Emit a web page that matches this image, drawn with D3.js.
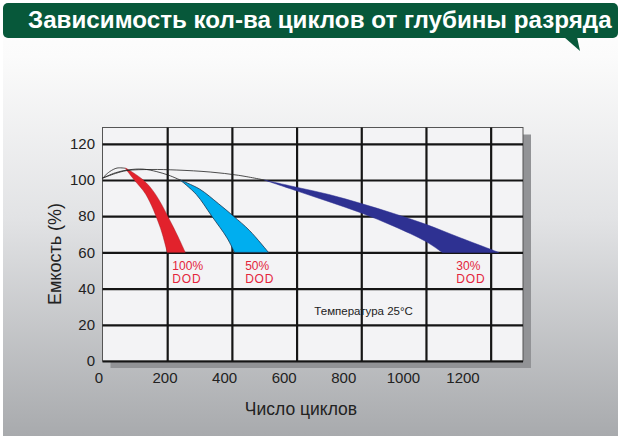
<!DOCTYPE html>
<html>
<head>
<meta charset="utf-8">
<script src="https://cdn.jsdelivr.net/npm/d3@7"></script>
<style>
  body { margin: 0; background: #fff; }
  svg text { font-family: "Liberation Sans", Arial, sans-serif; }
</style>
</head>
<body>
<div id="chart"></div>
<script>
// Chart data: [cycles, capacity %]
const xTicks = [0, 200, 400, 600, 800, 1000, 1200];
const yTicks = [0, 20, 40, 60, 80, 100, 120];

// thin black lines from the start point to the beginning of each band
const lead100 = [[0, 101], [22, 104.6], [45, 106.6], [70, 106.5]];
const lead50 = [[0, 101], [40, 104], [80, 105.6], [126, 106], [168, 104.6], [205, 102.6], [240, 100]];
const lead30 = [[0, 101], [40, 103.6], [75, 105.2], [150, 105.8], [230, 105.5], [333, 104.4], [420, 102.6], [500, 100]];

// band edges (inner = fewer cycles, outer = more cycles)
const band100Inner = [[70, 106.5], [98, 100], [134, 92], [178, 74], [200, 60]];
const band100Outer = [[72, 106.6], [126, 100], [162, 92.6], [219, 74], [256, 60]];
const band50Inner = [[240, 100], [290, 92], [338, 80], [385, 68], [408, 60]];
const band50Outer = [[240, 100], [300, 95], [358, 87], [405, 80], [455, 72], [513, 60]];
const band30Inner = [[500, 100], [600, 94], [700, 88], [800, 81.8], [900, 74.5], [1000, 66], [1050, 60]];
const band30Outer = [[500, 100], [600, 96], [700, 92], [800, 87], [900, 81.5], [1000, 75.5], [1100, 68.5], [1225, 60]];

const dodLabels = [
    {x: 216, y: 50.3, pct: "100%"},
    {x: 441, y: 50.3, pct: "50%"},
    {x: 1094, y: 50.3, pct: "30%"}
];

const width = 625;
const height = 436;
const plot = {left: 102.5, right: 523, top: 127.5, bottom: 361};

const svg = d3.select("#chart")
    .append("svg")
    .attr("width", width)
    .attr("height", height);

const defs = svg.append("defs");
const bg = defs.append("linearGradient")
    .attr("id", "bg")
    .attr("x1", 0).attr("y1", 0).attr("x2", 0).attr("y2", 1);
bg.append("stop").attr("offset", "0").attr("stop-color", "#ffffff");
bg.append("stop").attr("offset", "0.13").attr("stop-color", "#fbfbfb");
bg.append("stop").attr("offset", "0.5").attr("stop-color", "#e2e3e5");
bg.append("stop").attr("offset", "1").attr("stop-color", "#a8aaad");

// page background
svg.append("rect")
    .attr("x", 3).attr("y", 0)
    .attr("width", 615).attr("height", height)
    .attr("fill", "url(#bg)");

// title banner
svg.append("rect")
    .attr("x", 3).attr("y", 3)
    .attr("width", 615).attr("height", 35)
    .attr("rx", 5)
    .attr("fill", "#07583a");
svg.append("polygon")
    .attr("points", "564,37 580,51 577,37")
    .attr("fill", "#07583a");
svg.append("text")
    .attr("x", 28).attr("y", 27.5)
    .attr("fill", "#fff")
    .attr("font-size", 24.2)
    .attr("font-weight", "bold")
    .text("Зависимость кол-ва циклов от глубины разряда");

// Scales
const x = d3.scaleLinear().domain([0, 1300]).range([plot.left, plot.right]);
const y = d3.scaleLinear().domain([0, 129]).range([plot.bottom, plot.top]);
// the tick labels in the original sit a little left of their grid lines
const xLabel = d3.scaleLinear().domain([0, 200, 1200]).range([99, 165, 463]);

// plot shadow and background
svg.append("rect")
    .attr("x", plot.left + 8).attr("y", plot.top + 7)
    .attr("width", plot.right - plot.left).attr("height", plot.bottom - plot.top)
    .attr("fill", "#929396");
svg.append("rect")
    .attr("x", plot.left).attr("y", plot.top)
    .attr("width", plot.right - plot.left).attr("height", plot.bottom - plot.top)
    .attr("fill", "#f3f3f5")
    .attr("stroke", "#555")
    .attr("stroke-width", 1);

// grid lines
svg.append("g")
    .attr("transform", "translate(" + plot.left + ",0)")
    .call(d3.axisLeft(y).tickValues(yTicks).tickSize(-(plot.right - plot.left)).tickFormat(""))
    .call(g => g.select(".domain").remove())
    .call(g => g.selectAll("line").attr("stroke", "#151515").attr("stroke-width", 2.2));
svg.append("g")
    .attr("transform", "translate(0," + plot.bottom + ")")
    .call(d3.axisBottom(x).tickValues(xTicks.slice(1)).tickSize(-(plot.bottom - plot.top)).tickFormat(""))
    .call(g => g.select(".domain").remove())
    .call(g => g.selectAll("line").attr("stroke", "#151515").attr("stroke-width", 2.2));

// y tick labels
svg.append("g")
    .selectAll("text")
    .data(yTicks)
    .enter().append("text")
    .attr("x", 95)
    .attr("y", d => y(d) + 5.3)
    .attr("text-anchor", "end")
    .attr("font-size", 15)
    .attr("fill", "#222")
    .text(d => d);

// x tick labels
svg.append("g")
    .selectAll("text")
    .data(xTicks)
    .enter().append("text")
    .attr("x", d => xLabel(d))
    .attr("y", 382.7)
    .attr("text-anchor", "middle")
    .attr("font-size", 15)
    .attr("fill", "#222")
    .text(d => d);

// axis titles
svg.append("text")
    .attr("transform", "translate(61,254) rotate(-90)")
    .attr("text-anchor", "middle")
    .attr("font-size", 18)
    .attr("fill", "#222")
    .text("Емкость (%)");
svg.append("text")
    .attr("x", 301).attr("y", 415)
    .attr("text-anchor", "middle")
    .attr("font-size", 17.5)
    .attr("fill", "#222")
    .text("Число циклов");

// curves
const line = d3.line()
    .x(d => x(d[0]))
    .y(d => y(d[1]))
    .curve(d3.curveCatmullRom.alpha(0.5));

function bandPath(inner, outer) {
    const a = line(outer);
    const b = line(inner.slice().reverse());
    return a + "L" + b.slice(1) + "Z";
}

svg.append("path")
    .attr("d", bandPath(band100Inner, band100Outer))
    .attr("fill", "#e2222c")
    .attr("stroke", "#9a1a20")
    .attr("stroke-width", 0.4);
svg.append("path")
    .attr("d", bandPath(band50Inner, band50Outer))
    .attr("fill", "#00aeef")
    .attr("stroke", "#1a3550")
    .attr("stroke-width", 0.8);
svg.append("path")
    .attr("d", bandPath(band30Inner, band30Outer))
    .attr("fill", "#2e3192")
    .attr("stroke", "#2e3192")
    .attr("stroke-width", 0.5);

[lead100, lead50, lead30].forEach(function(pts) {
    svg.append("path")
        .attr("d", line(pts))
        .attr("fill", "none")
        .attr("stroke", "#222")
        .attr("stroke-width", 0.8);
});

// DOD labels
const labels = svg.append("g")
    .selectAll("text")
    .data(dodLabels)
    .enter().append("text")
    .attr("x", d => x(d.x))
    .attr("y", d => y(d.y))
    .attr("font-size", 12)
    .attr("fill", "#e4243b");
labels.append("tspan")
    .text(d => d.pct);
labels.append("tspan")
    .attr("x", d => x(d.x))
    .attr("dy", 13)
    .attr("letter-spacing", 0.8)
    .text("DOD");

svg.append("text")
    .attr("x", x(655)).attr("y", y(25.4))
    .attr("font-size", 11.5)
    .attr("fill", "#222")
    .text("Температура 25°C");
</script>
</body>
</html>
